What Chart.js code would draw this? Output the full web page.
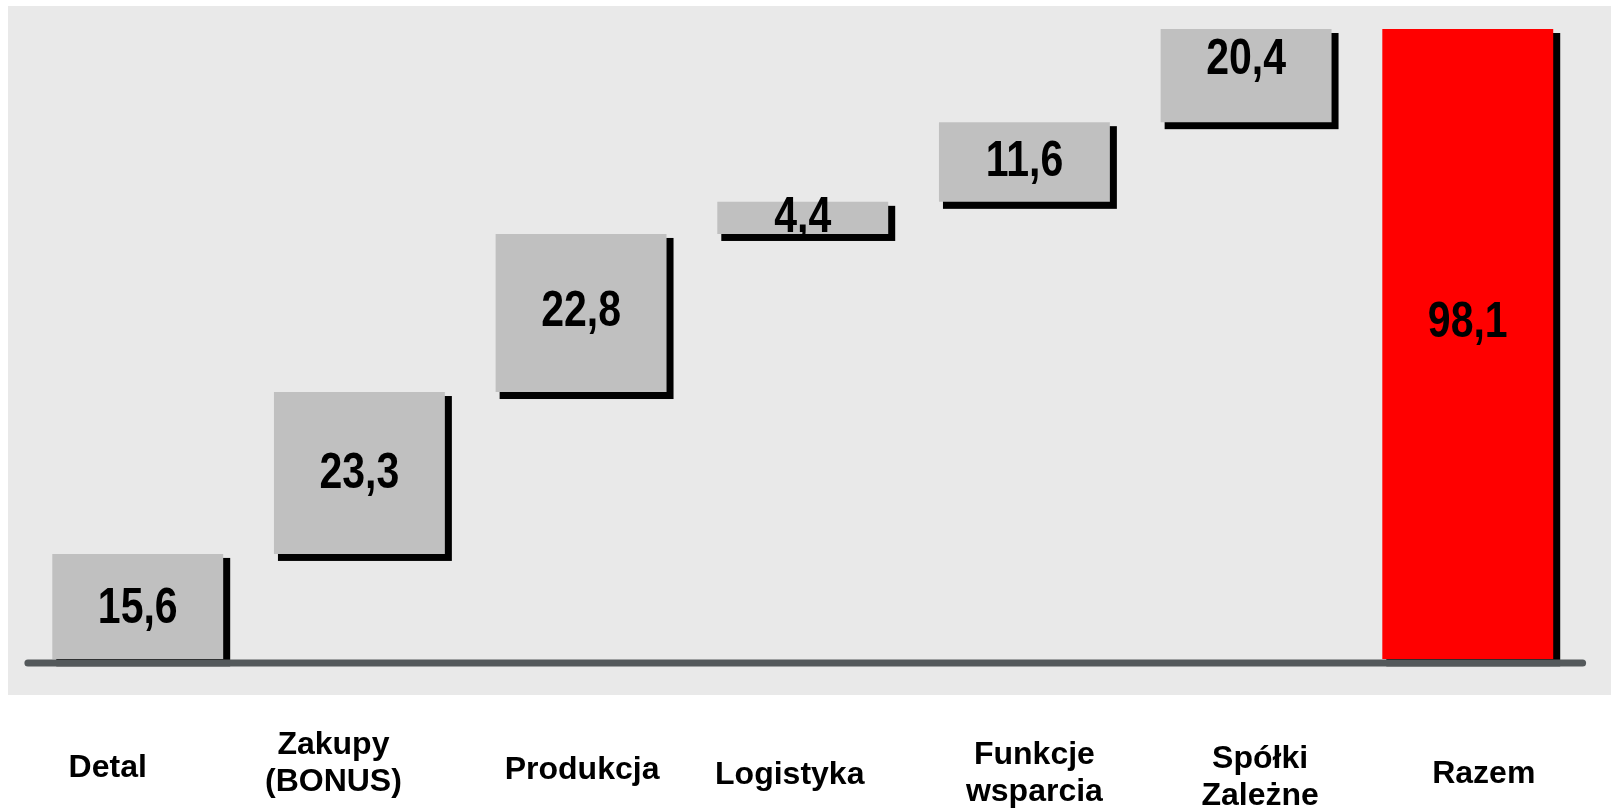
<!DOCTYPE html>
<html><head><meta charset="utf-8">
<script src="https://cdn.jsdelivr.net/npm/chart.js@4/dist/chart.umd.min.js"></script>
<style>html,body{margin:0;padding:0;background:#fff;overflow:hidden;}</style>
</head><body>
<canvas id="c" width="1611" height="812"></canvas>
<script>
// ---- data ----
const categories = [['Detal'], ['Zakupy', '(BONUS)'], ['Produkcja'], ['Logistyka'], ['Funkcje', 'wsparcia'], ['Spółki', 'Zależne'], ['Razem']];
const printedValues = [15.6, 23.3, 22.8, 4.4, 11.6, 20.4, 98.1];
// floating bar extents as drawn in the picture
const barStart = [0, 16.4, 41.6, 66.2, 71.2, 83.6, 0];
const barEnd = [16.4, 41.6, 66.2, 71.2, 83.6, 98.1, 98.1];
const isTotal = [false, false, false, false, false, false, true];

// ---- styles / layout ----
const GREY = '#c0c0c0', RED = '#ff0000', PANEL = '#e9e9e9', AXIS = '#54595b';
const catLabelDx = [-30, -26, 1, -13, 10, 14, 16];
const catLabelDy = [109, 104, 111, 116, 114, 118, 115];
const valueLabelDy = [3, 1, -1, 0, 0, -15, -21];

function hasFont(name) {
  const c = document.createElement('canvas').getContext('2d');
  const s = 'mmmmmmwwwwwlli1234567890';
  c.font = 'bold 40px monospace'; const a = c.measureText(s).width;
  c.font = 'bold 40px "' + name + '", monospace'; const b = c.measureText(s).width;
  return a !== b;
}
const narrowOK = hasFont('Liberation Sans Narrow');

const fmt = v => v.toFixed(1).replace('.', ',');

const decor = {
  id: 'decor',
  beforeDraw(chart) {
    const ctx = chart.ctx;
    ctx.save();
    ctx.fillStyle = '#ffffff';
    ctx.fillRect(0, 0, chart.width, chart.height);
    ctx.fillStyle = PANEL;
    ctx.fillRect(8, 6, chart.width - 8, 689);
    ctx.restore();
  },
  beforeDatasetsDraw(chart) {
    const ctx = chart.ctx;
    const meta = chart.getDatasetMeta(0);
    ctx.save();
    ctx.fillStyle = '#000000';
    meta.data.forEach(el => {
      const p = el.getProps(['x', 'y', 'base', 'width'], true);
      const left = p.x - p.width / 2;
      const top = Math.min(p.y, p.base), bottom = Math.max(p.y, p.base);
      ctx.fillRect(left + 4, top + 4, p.width + 3, bottom - top + 3);
    });
    ctx.restore();
  },
  afterDatasetsDraw(chart) {
    const ctx = chart.ctx;
    const area = chart.chartArea;
    const xs = chart.scales.x;
    const meta = chart.getDatasetMeta(0);
    ctx.save();
    // axis line
    ctx.strokeStyle = AXIS;
    ctx.lineWidth = 7;
    ctx.lineCap = 'round';
    ctx.beginPath();
    ctx.moveTo(area.left + 1, area.bottom + 3.7);
    ctx.lineTo(area.right + 4, area.bottom + 3.7);
    ctx.stroke();
    // value labels
    ctx.fillStyle = '#000';
    ctx.textAlign = 'center';
    ctx.textBaseline = 'middle';
    meta.data.forEach((el, i) => {
      const p = el.getProps(['x', 'y', 'base'], true);
      const cy = (p.y + p.base) / 2 + valueLabelDy[i];
      const txt = fmt(printedValues[i]);
      if (narrowOK) {
        ctx.font = 'bold 50px "Liberation Sans Narrow", "Arial Narrow", sans-serif';
        ctx.fillText(txt, p.x, cy);
      } else {
        ctx.save();
        ctx.font = 'bold 50px "Liberation Sans", Arial, sans-serif';
        ctx.translate(p.x, cy);
        ctx.scale(0.82, 1);
        ctx.fillText(txt, 0, 0);
        ctx.restore();
      }
    });
    // category labels
    ctx.font = 'bold 32px "Liberation Sans", Arial, sans-serif';
    categories.forEach((lines, i) => {
      const cx = xs.getPixelForValue(i) + catLabelDx[i];
      const cy = area.bottom + catLabelDy[i];
      const lh = 37;
      lines.forEach((ln, k) => {
        ctx.fillText(ln, cx, cy + (k - (lines.length - 1) / 2) * lh);
      });
    });
    ctx.restore();
  }
};

new Chart(document.getElementById('c'), {
  type: 'bar',
  data: {
    labels: categories.map(l => l.join(' ')),
    datasets: [{
      data: barStart.map((s, i) => [s, barEnd[i]]),
      backgroundColor: isTotal.map(t => t ? RED : GREY),
      borderWidth: 0,
      barPercentage: 0.771,
      categoryPercentage: 1
    }]
  },
  options: {
    responsive: false,
    animation: false,
    devicePixelRatio: 1,
    layout: { padding: { left: 26.9, right: 32.4, top: 16.8, bottom: 152.7 } },
    plugins: { legend: { display: false }, tooltip: { enabled: false } },
    scales: {
      x: { display: false },
      y: { display: false, min: 0, max: 100 }
    }
  },
  plugins: [decor]
});
</script>
</body></html>
